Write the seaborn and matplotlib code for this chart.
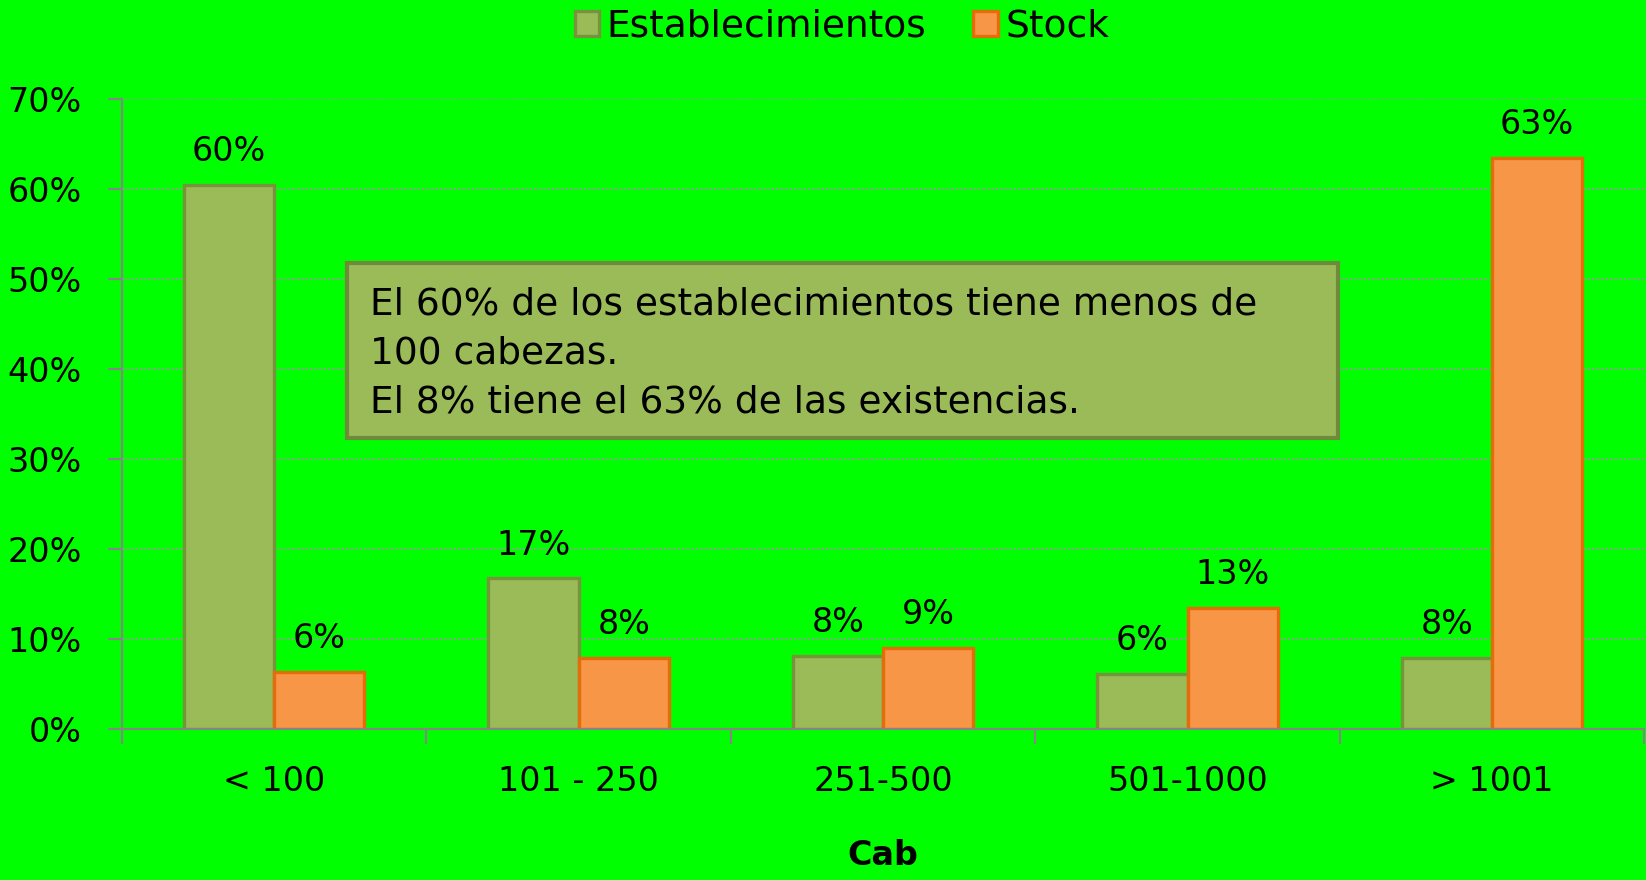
import matplotlib
matplotlib.use("Agg")
import matplotlib.pyplot as plt
from matplotlib.patches import Patch, Rectangle
import pandas as pd
import seaborn as sns

# Data
categorias = ["< 100", "101 - 250", "251-500", "501-1000", "> 1001"]
establecimientos = [0.604, 0.167, 0.081, 0.061, 0.079]
stock = [0.063, 0.079, 0.090, 0.134, 0.634]
series = ["Establecimientos", "Stock"]
y_ticks = [0, 0.1, 0.2, 0.3, 0.4, 0.5, 0.6, 0.7]
nota = ("El 60% de los establecimientos tiene menos de\n"
        "100 cabezas.\n"
        "El 8% tiene el 63% de las existencias.")

# colours
bg = "#00FF00"
fills = {"Establecimientos": "#9BBB59", "Stock": "#F79646"}
edges = {"Establecimientos": "#77933C", "Stock": "#E46C0A"}
gray = "#868686"

sns.set_style("white")
plt.rcParams['font.family'] = ['DejaVu Sans']
plt.rcParams['text.color'] = 'black'
plt.rcParams['axes.labelcolor'] = 'black'
plt.rcParams['xtick.labelcolor'] = 'black'
plt.rcParams['ytick.labelcolor'] = 'black'

df = pd.DataFrame({
    "cat": categorias * 2,
    "serie": [series[0]] * len(categorias) + [series[1]] * len(categorias),
    "valor": establecimientos + stock,
})

fig = plt.figure(figsize=(16.46, 8.8), dpi=100)
fig.patch.set_facecolor(bg)
ax = fig.add_axes([0.074, 0.172, 0.925, 0.716])
ax.set_facecolor(bg)

sns.barplot(data=df, x="cat", y="valor", hue="serie", order=categorias,
            hue_order=series, palette=fills, width=0.593, gap=0,
            saturation=1, legend=False, ax=ax)

for serie, cont in zip(series, ax.containers):
    for bar in cont:
        bar.set_edgecolor(edges[serie])
        bar.set_linewidth(2.4)
    ax.bar_label(cont, labels=[f"{v:.0%}" for v in cont.datavalues],
                 padding=12, fontsize=24, color="black")

# axes styling
ax.set_xlim(-0.5, len(categorias) - 0.5)
ax.set_ylim(0, 0.7)
ax.set_yticks(y_ticks)
ax.set_yticklabels([f"{t:.0%}" for t in y_ticks], fontsize=24)
ax.yaxis.grid(True, linestyle=(0, (1, 1)), color="#9A9A9A", linewidth=1.3)
ax.set_axisbelow(True)
ax.tick_params(axis="y", length=10, width=1.5, color=gray, pad=19, left=True)
ax.tick_params(axis="x", which="major", length=0, pad=26, labelsize=24)
ax.set_xticks([i - 0.5 for i in range(len(categorias) + 1)], minor=True)
ax.tick_params(axis="x", which="minor", length=11, width=1.5, color=gray,
               bottom=True)
for side in ["top", "right"]:
    ax.spines[side].set_visible(False)
for side in ["left", "bottom"]:
    ax.spines[side].set_color(gray)
    ax.spines[side].set_linewidth(1.5)

ax.set_xlabel("Cab", fontsize=24, fontweight="bold", labelpad=30,
              color="black")
ax.set_ylabel("")

# legend
handles = [Patch(facecolor=fills[s], edgecolor=edges[s], linewidth=2.4)
           for s in series]
fig.legend(handles, series, loc="center", bbox_to_anchor=(0.5115, 0.97),
           ncol=2, frameon=False, fontsize=27, handlelength=0.65,
           handleheight=0.65, handletextpad=0.2, columnspacing=1.25,
           labelcolor="black")

# annotation box
fig.patches.append(Rectangle((0.211, 0.5025), 0.602, 0.199,
                             transform=fig.transFigure, facecolor="#9BBB59",
                             edgecolor="#6F8A3A", linewidth=3, zorder=5))
fig.text(0.2245, 0.674, nota, fontsize=27, va="top", ha="left",
         linespacing=1.45, color="black", zorder=6)

plt.savefig("out.png", dpi=100, facecolor=bg)
print("saved out.png")
